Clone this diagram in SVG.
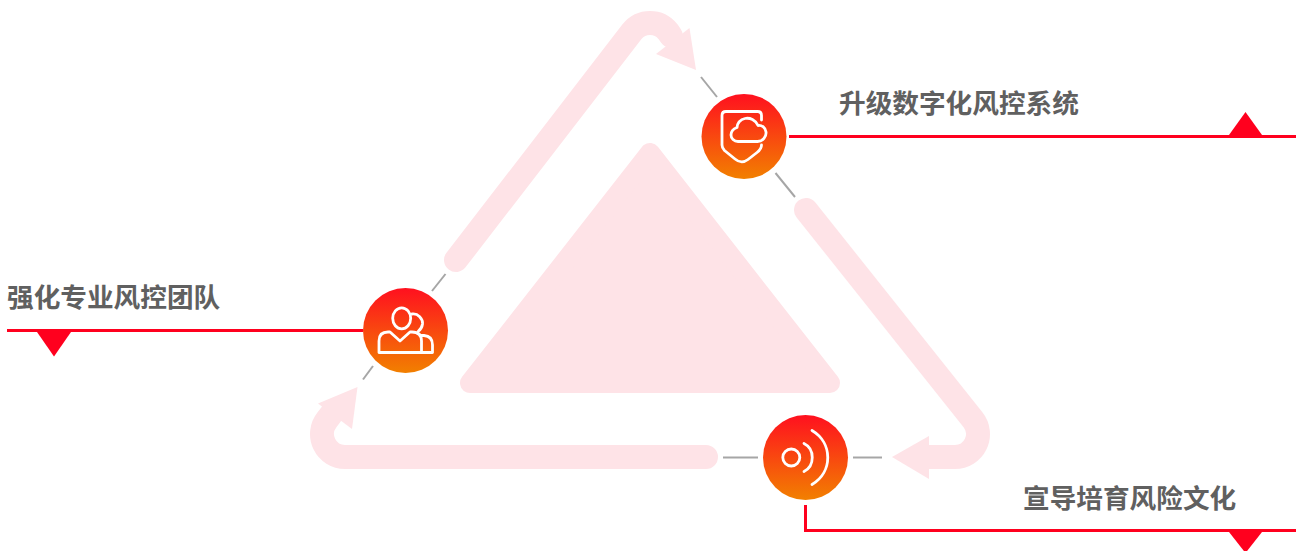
<svg xmlns="http://www.w3.org/2000/svg" width="1298" height="551" viewBox="0 0 1298 551">
<style>
.ring{fill:none;stroke:#fee3e7;stroke-width:24;stroke-linecap:round;stroke-linejoin:round}
.head{fill:#fee3e7}
.conn{fill:none;stroke:#a6a6a6;stroke-width:2}
.red{fill:none;stroke:#ff001e;stroke-width:3}
.tri{fill:#ff001e}
.ico{fill:none;stroke:#fff;stroke-width:2.800;stroke-linecap:round;stroke-linejoin:round}
.lbl{font-family:"Noto Sans CJK SC","Liberation Sans",sans-serif;font-weight:700;font-size:26.67px;fill:#606060}
</style>
<defs>
<linearGradient id="g" x1="0" y1="0" x2="0" y2="1"><stop offset="0" stop-color="#ff101f"/><stop offset="1" stop-color="#f28000"/></linearGradient>
</defs>
<rect width="1298" height="551" fill="#fff"/>
<g id="center-triangle"><polygon points="650,153 470,383 830,383" fill="#fee3e7" stroke="#fee3e7" stroke-width="20" stroke-linejoin="round"/></g>
<g id="ring">
<path class="ring" d="M456,260 L632,31.7 A23,23 0 0 1 668,31.700 L671,36"/>
<polygon class="head" points="696,70 689.500,28 656,54"/>
<path class="ring" d="M806,210 L973,419.700 A23,23 0 0 1 955,457 L925,457"/>
<polygon class="head" points="892,457 929,436 929,479"/>
<path class="ring" d="M706,457 L345,457 A23,23 0 0 1 327,419.700 L331,414.500"/>
<polygon class="head" points="357.500,387 318,403.500 352,429"/>
</g>
<g id="connectors">
<path class="conn" d="M701,77 L717,97"/>
<path class="conn" d="M775.500,173 L795,197"/>
<path class="conn" d="M445.500,274 L432,291"/>
<path class="conn" d="M373,366 L363,379.500"/>
<path class="conn" d="M723,457.500 H758"/>
<path class="conn" d="M853,457.500 H882"/>
<path class="red" d="M789,136.500 H1296"/>
<polygon class="tri" points="1245.500,112 1229,135 1262,135"/>
<path class="red" d="M7,330.500 H363"/>
<polygon class="tri" points="37,332 71,332 54,356.500"/>
<path class="red" d="M805.500,505 V530.500 H1296"/>
<polygon class="tri" points="1229,532 1262,532 1245.500,553"/>
</g>
<g id="node-top">
<circle cx="744" cy="136.500" r="42.500" fill="url(#g)"/>
<path class="ico" d="M761.500,120 V115.500 Q761.500,111.500 757.500,111.500 H726 Q722,111.500 722,115.500 V145 Q722,148 724.500,150.500 L735,159 Q741.500,164.500 748,159.500 L757,152.500 Q761.500,149 761.500,145"/>
<path class="ico" d="M738,141.500 H757.500 C763,141.500 766.500,136.500 766,132 C765.500,127.500 762,125 758,125.500 C755.500,120 750,117.500 745,118.500 C740.500,119.500 737.500,123 737,127.500 C733,129 731,132 731,135 C731,138.500 734,141.500 738,141.500 Z"/>
</g>
<g id="node-left">
<circle cx="405.500" cy="330.500" r="42.500" fill="url(#g)"/>
<ellipse class="ico" cx="401.700" cy="318.300" rx="9" ry="10.500"/>
<path class="ico" d="M379,352.500 V341 Q379,332 388,332 H390 L400,341 L410,332 H412 Q421.500,332 421.500,341 V352.500 Z"/>
<path class="ico" d="M412,314 C418,313 423,319 422.500,324 C422,328 420,330 418,331.500"/>
<path class="ico" d="M421.500,335.500 H424 Q432.500,336 432.500,345 V352.500 H421.500"/>
</g>
<g id="node-bottom">
<circle cx="805.500" cy="457.500" r="42.500" fill="url(#g)"/>
<circle class="ico" cx="791.300" cy="457.500" r="8.500"/>
<path class="ico" d="M804,443.500 C815,449 815,466 804,471.500"/>
<path class="ico" d="M812,430.500 C833,443 833,472 812,484.500"/>
</g>
<g id="labels">
<text class="lbl" x="839" y="113">升级数字化风控系统</text>
<text class="lbl" x="7" y="307">强化专业风控团队</text>
<text class="lbl" x="1023" y="508">宣导培育风险文化</text>
</g>
</svg>
